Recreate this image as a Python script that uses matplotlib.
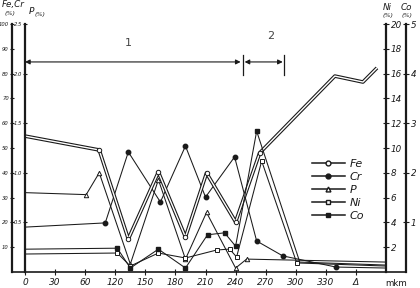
import matplotlib
matplotlib.use("Agg")
import matplotlib.pyplot as plt
from matplotlib.lines import Line2D

# ---------------- data (x in axis position units, ticks every 30) ----------------
x_ticks = [0, 30, 60, 90, 120, 150, 180, 210, 240, 270, 300, 330]
x_tick_labels = ["0", "30", "60", "120", "150", "180", "210", "240", "270", "300", "330", "\u0394"]

fe_x = [0, 74, 103, 133, 160, 181, 210, 234, 309, 337, 351]
fe_y = [54.8, 49.2, 13.3, 40.3, 14.1, 39.9, 20.2, 48.0, 79.0, 76.6, 82.3]

cr_x = [0, 80, 103, 135, 160, 180, 209, 231, 257, 310, 360]
cr_y = [18.1, 19.8, 48.4, 28.2, 50.8, 30.2, 46.4, 12.5, 6.5, 2.0, 1.6]

p_x = [0, 61, 74, 105, 133, 160, 181, 210, 221, 360]
p_y = [0.80, 0.78, 1.00, 0.08, 0.93, 0.13, 0.60, 0.04, 0.13, 0.10]

ni_x = [0, 92, 105, 133, 160, 191, 204, 211, 236, 271, 360]
ni_y = [1.45, 1.53, 0.48, 1.53, 1.13, 1.77, 1.85, 1.21, 8.95, 0.73, 0.48]

co_x = [0, 92, 105, 133, 160, 182, 199, 210, 231, 274, 360]
co_y = [0.46, 0.48, 0.08, 0.46, 0.08, 0.75, 0.79, 0.52, 2.84, 0.20, 0.14]

fecr_ticks = [10, 20, 30, 40, 50, 60, 70, 80, 90, 100]
p_ticks = [0.5, 1.0, 1.5, 2.0, 2.5]
ni_ticks = [2, 4, 6, 8, 10, 12, 14, 16, 18, 20]
co_ticks = [1, 2, 3, 4, 5]

zone1 = (0, 217)
zone2 = (217, 258)
zone_y = 84.7

INK = "#1a1a1a"

fig = plt.figure(figsize=(4.2, 2.88), dpi=100)
L, R = 12 / 420, 386 / 420
B, T = 16 / 288, 264 / 288
ax = fig.add_axes([L, B, R - L, T - B])
ax.set_xlim(-13, 360)
ax.set_ylim(0, 100)

for s in ("top", "right"):
    ax.spines[s].set_visible(False)
ax.spines["left"].set_linewidth(1.6)
ax.spines["bottom"].set_linewidth(1.2)
ax.spines["left"].set_color(INK)
ax.spines["bottom"].set_color(INK)

ax.set_xticks(x_ticks)
ax.set_xticklabels(x_tick_labels, fontstyle="italic", fontsize=6.5, color=INK)
ax.tick_params(axis="x", direction="inout", length=4, width=0.8, pad=2, colors=INK)
ax.set_yticks(fecr_ticks)
ax.set_yticklabels([str(v) for v in fecr_ticks], fontstyle="italic", fontsize=3.8)
ax.tick_params(axis="y", direction="inout", length=3.5, width=0.8, pad=0.5, colors=INK)

# P axis
ax_p = ax.twinx()
ax_p.set_ylim(0, 2.5)
for s in ("top", "right", "bottom"):
    ax_p.spines[s].set_visible(False)
ax_p.spines["left"].set_visible(True)
ax_p.spines["left"].set_position(("data", 0))
ax_p.spines["left"].set_linewidth(1.6)
ax_p.spines["left"].set_color(INK)
ax_p.yaxis.tick_left()
ax_p.set_yticks(p_ticks)
ax_p.set_yticklabels(["%.1f" % v for v in p_ticks], fontstyle="italic", fontsize=3.8)
ax_p.tick_params(axis="y", direction="inout", length=3.5, width=0.8, pad=0.5, colors=INK)

# Ni axis
ax_ni = ax.twinx()
ax_ni.set_ylim(0, 20)
for s in ("top", "left", "bottom"):
    ax_ni.spines[s].set_visible(False)
ax_ni.spines["right"].set_linewidth(1.6)
ax_ni.spines["right"].set_color(INK)
ax_ni.set_yticks(ni_ticks)
ax_ni.set_yticklabels([str(v) for v in ni_ticks], fontstyle="italic", fontsize=6.3)
ax_ni.tick_params(axis="y", direction="inout", length=5, width=0.8, pad=1, colors=INK)

# Co axis
ax_co = ax.twinx()
ax_co.set_ylim(0, 5)
for s in ("top", "left", "bottom"):
    ax_co.spines[s].set_visible(False)
ax_co.spines["right"].set_position(("axes", 1 + 20 / 374))
ax_co.spines["right"].set_linewidth(1.6)
ax_co.spines["right"].set_color(INK)
ax_co.set_yticks(co_ticks)
ax_co.set_yticklabels([str(v) for v in co_ticks], fontstyle="italic", fontsize=6.3)
ax_co.tick_params(axis="y", direction="inout", length=5, width=0.8, pad=1, colors=INK)

# extend the base line under the Co axis
fig.add_artist(Line2D([R, (406) / 420], [B, B], color=INK, lw=1.2))

lw = 0.75
ms = 3.2
# Fe: hollow (double) line
ax.plot(fe_x, fe_y, color=INK, lw=2.6, solid_capstyle="butt", zorder=3)
ax.plot(fe_x, fe_y, color="white", lw=1.0, solid_capstyle="butt", zorder=4)
ax.plot(fe_x[1:8], fe_y[1:8], ls="none", marker="o", ms=ms, mfc="white", mec=INK, mew=0.7, zorder=5)
ax.plot(cr_x, cr_y, color=INK, lw=lw, marker="o", ms=ms, mfc=INK, mec=INK,
        markevery=list(range(1, len(cr_x) - 1)), zorder=3)
ax_p.plot(p_x, p_y, color=INK, lw=lw, marker="^", ms=ms, mfc="white", mec=INK, mew=0.7,
          markevery=list(range(1, len(p_x) - 1)))
ax_ni.plot(ni_x, ni_y, color=INK, lw=lw, marker="s", ms=ms * 0.9, mfc="white", mec=INK, mew=0.7,
           markevery=list(range(1, len(ni_x) - 1)))
ax_co.plot(co_x, co_y, color=INK, lw=lw, marker="s", ms=ms * 0.9, mfc=INK, mec=INK,
           markevery=list(range(1, len(co_x) - 2)))

# zone markers
arrow_kw = dict(arrowstyle="<|-|>", color=INK, lw=0.8, mutation_scale=7, shrinkA=0, shrinkB=0)
ax.annotate("", xy=(zone1[1] - 2, zone_y), xytext=(zone1[0], zone_y), arrowprops=arrow_kw)
ax.annotate("", xy=(zone2[1] - 1, zone_y), xytext=(zone2[0] + 2, zone_y), arrowprops=arrow_kw)
for xb in (zone1[1], zone2[1]):
    ax.plot([xb, xb], [79.4, 87.5], color=INK, lw=0.9)
ax.text((zone1[0] + zone1[1]) / 2 - 5, 92.5, "1", fontsize=8, color="#444", ha="center", va="center")
ax.text((zone2[0] + zone2[1]) / 2 + 7, 95, "2", fontsize=8, color="#444", ha="center", va="center")

# axis titles
def ftxt(px, py, s, **kw):
    fig.text(px / 420, 1 - py / 288, s, ha="center", va="center", color=INK, **kw)

ftxt(13, 5, "Fe,Cr", fontsize=6.3, fontstyle="italic")
ftxt(10, 13, "(%)", fontsize=4.5, fontstyle="italic")
ftxt(31, 12, "P", fontsize=6.5, fontstyle="italic")
ftxt(40, 14.5, "(%)", fontsize=4.5, fontstyle="italic")
ftxt(387, 8, "Ni", fontsize=6.3, fontstyle="italic")
ftxt(388, 16, "(%)", fontsize=4.5, fontstyle="italic")
ftxt(406, 8, "Co", fontsize=6.3, fontstyle="italic")
ftxt(407, 16, "(%)", fontsize=4.5, fontstyle="italic")
ftxt(396, 283, "mkm", fontsize=6.3)

# legend
handles = [
    Line2D([], [], color=INK, lw=1.1, marker="o", ms=3.5, mfc="white", mec=INK),
    Line2D([], [], color=INK, lw=1.1, marker="o", ms=3.5, mfc=INK, mec=INK),
    Line2D([], [], color=INK, lw=1.1, marker="^", ms=3.5, mfc="white", mec=INK),
    Line2D([], [], color=INK, lw=1.1, marker="s", ms=3.2, mfc="white", mec=INK),
    Line2D([], [], color=INK, lw=1.1, marker="s", ms=3.2, mfc=INK, mec=INK),
]
leg = ax_co.legend(handles, ["Fe", "Cr", "P", "Ni", "Co"], loc="upper left",
                   bbox_to_anchor=(306 / 420, 1 - 153 / 288), bbox_transform=fig.transFigure,
                   frameon=False, prop={"size": 8, "style": "italic"}, handlelength=3.0,
                   handletextpad=0.4, labelspacing=0.28, borderpad=0)
for t in leg.get_texts():
    t.set_color(INK)

fig.savefig("out.png", dpi=100)
